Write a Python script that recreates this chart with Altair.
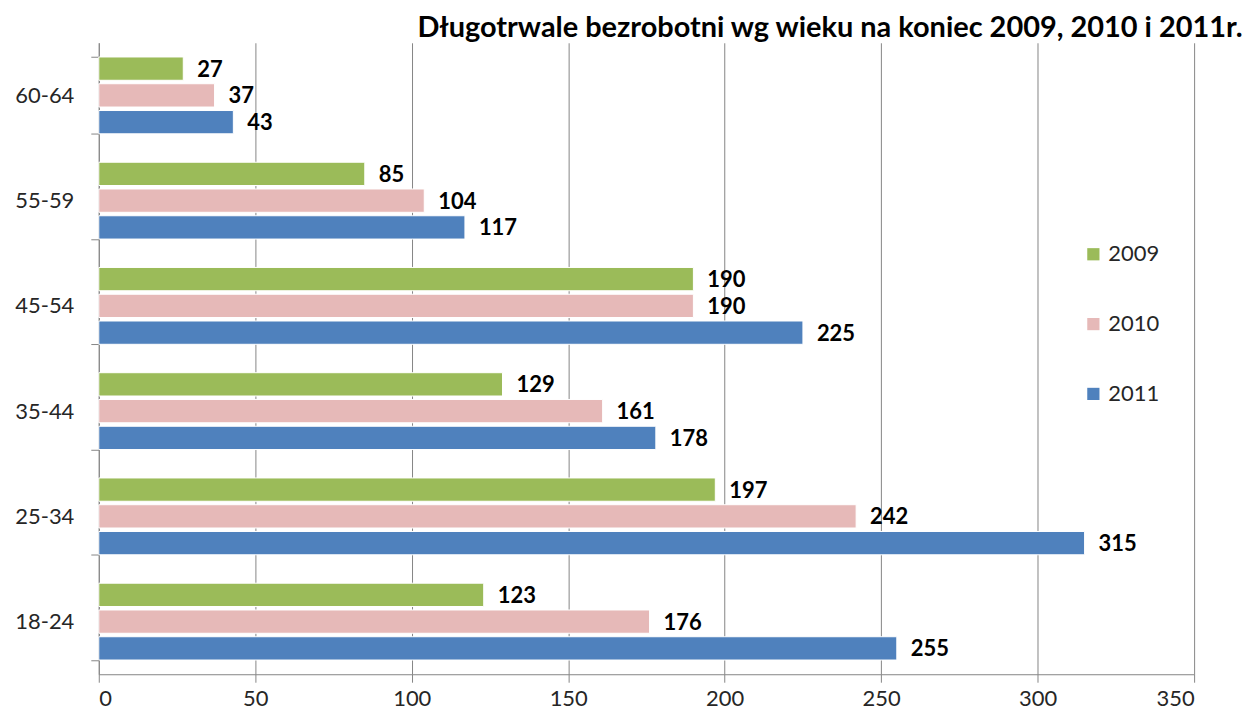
import altair as alt
import pandas as pd

ages = ["60-64", "55-59", "45-54", "35-44", "25-34", "18-24"]
years = ["2009", "2010", "2011"]
v2009 = [27, 85, 190, 129, 197, 123]
v2010 = [37, 104, 190, 161, 242, 176]
v2011 = [43, 117, 225, 178, 315, 255]
colors = ["#9BBB59", "#E6B9B8", "#4F81BD"]
x_ticks = [0, 50, 100, 150, 200, 250, 300, 350]

rows = []
for i, a in enumerate(ages):
    for y, vals in zip(years, [v2009, v2010, v2011]):
        rows.append({"age": a, "year": y, "value": vals[i]})
df = pd.DataFrame(rows)

FONT = "Lato"

y_enc = alt.Y(
    "age:N",
    sort=ages,
    title=None,
    scale=alt.Scale(paddingInner=0.27, paddingOuter=0.135),
    axis=alt.Axis(
        tickBand="extent",
        labelFontSize=22,
        labelFont=FONT,
        labelColor="#262626",
        labelPadding=17,
        tickSize=8,
        tickColor="#868686",
        domainColor="#868686",
        grid=False,
    ),
)
yoff = alt.YOffset("year:N", sort=years, scale=alt.Scale(paddingInner=0.13, paddingOuter=0))
x_enc = alt.X(
    "value:Q",
    title=None,
    scale=alt.Scale(domain=[0, 350], nice=False),
    axis=alt.Axis(
        values=x_ticks,
        labelFontSize=22,
        labelFont=FONT,
        labelColor="#262626",
        labelPadding=6,
        tickSize=8,
        tickColor="#868686",
        domainColor="#868686",
        gridColor="#868686",
        gridWidth=1,
    ),
)

bars = alt.Chart(df).mark_bar(stroke="white", strokeWidth=1).encode(
    x=x_enc,
    y=y_enc,
    yOffset=yoff,
    color=alt.Color(
        "year:N",
        sort=years,
        scale=alt.Scale(domain=years, range=colors),
        legend=alt.Legend(
            title=None,
            orient="none",
            legendX=986,
            legendY=201,
            symbolType="square",
            symbolSize=150,
            symbolStrokeWidth=0,
            labelFontSize=22,
            labelFont=FONT,
            labelColor="#262626",
            rowPadding=48,
            labelOffset=4,
        ),
    ),
)

labels = alt.Chart(df).mark_text(
    align="left", baseline="middle", dx=14, dy=1,
    fontSize=22, fontWeight="bold", font=FONT, color="#000000",
).encode(
    x="value:Q",
    y=alt.Y("age:N", sort=ages),
    yOffset=yoff,
    text="value:Q",
)

chart = alt.layer(bars, labels).properties(
    width=1098,
    height=633,
    title=alt.TitleParams(
        "Długotrwale bezrobotni wg wieku na koniec 2009, 2010 i 2011r.",
        anchor="end",
        dx=48,
        dy=17,
        offset=6,
        fontSize=29,
        font=FONT,
        fontWeight="bold",
        color="#000000",
    ),
    autosize=alt.AutoSizeParams(type="none"),
    padding={"left": 91, "top": 34, "right": 48, "bottom": 37},
).configure_view(stroke=None)

chart.save("out.html", embed_options={"renderer": "svg", "actions": False})
